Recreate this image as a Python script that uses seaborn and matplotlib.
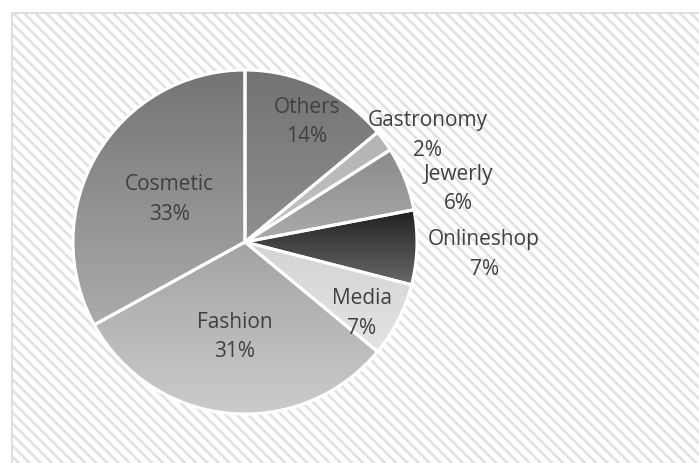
import numpy as np
import matplotlib
matplotlib.use("Agg")
import matplotlib.pyplot as plt
import seaborn as sns
from matplotlib.colors import LinearSegmentedColormap
from matplotlib.patches import Rectangle

# ---- data ----
categories = ["Others", "Gastronomy", "Jewerly", "Onlineshop", "Media", "Fashion", "Cosmetic"]
values = [14, 2, 6, 7, 7, 31, 33]
pct_labels = ["14%", "2%", "6%", "7%", "7%", "31%", "33%"]

# gradient colours (top -> bottom) per slice
top_colors = ["#737373", "#b3b3b3", "#8a8a8a", "#1f1f1f", "#d4d4d4", "#a3a3a3", "#747474"]
bottom_colors = ["#8f8f8f", "#c4c4c4", "#ababab", "#6a6a6a", "#e3e3e3", "#cccccc", "#ababab"]

# label placement (radius as fraction of pie radius, angle in degrees)
label_r = [0.785, 1.231, 1.276, 1.392, 0.796, 0.555, 0.505]
label_ang = [62.7, 30.2, 14.0, -3.0, -31.3, -96.0, 151.0]

sns.set_theme(style="white")
plt.rcParams["font.family"] = ["Open Sans", "DejaVu Sans"]
plt.rcParams["hatch.linewidth"] = 1.9

W, H = 699, 463
fig = plt.figure(figsize=(W / 100, H / 100), dpi=100)
fig.patch.set_facecolor("white")

# hatched background panel
x0, y0 = 12 / W, 0.0
bg = Rectangle((x0, y0), 1 - x0 + 0.01, 1 - 13 / H, transform=fig.transFigure,
               facecolor="white", edgecolor="#e2e2e2", hatch="\\\\\\", linewidth=0, zorder=-5)
fig.patches.append(bg)
border = Rectangle((x0, y0 - 0.01), 1 - x0 + 0.02, 1 - 13 / H + 0.01, transform=fig.transFigure,
                   facecolor="none", edgecolor="#d9d9d9", linewidth=1.2, zorder=-4)
fig.patches.append(border)

ax = fig.add_axes([0, 0, 1, 1])
ax.set_zorder(1)
ax.patch.set_visible(False)

R_PX = 172.0
cx, cy = 245.0, 242.0

wedges, _ = ax.pie(values, startangle=90, counterclock=False, radius=1, center=(0, 0),
                   colors=bottom_colors,
                   wedgeprops=dict(edgecolor="white", linewidth=2.2))

grad = np.linspace(0, 1, 256).reshape(-1, 1)
for w, tc, bc in zip(wedges, top_colors, bottom_colors):
    verts = w.get_path().vertices
    xmin, xmax = verts[:, 0].min(), verts[:, 0].max()
    ymin, ymax = verts[:, 1].min(), verts[:, 1].max()
    cmap = LinearSegmentedColormap.from_list("g", [tc, bc])
    im = ax.imshow(grad, extent=(xmin, xmax, ymin, ymax), origin="upper", cmap=cmap,
                   aspect="auto", zorder=0.8, interpolation="bilinear")
    im.set_clip_path(w)
    w.set_facecolor("none")
    w.set_zorder(1)

for cat, pct, r, a in zip(categories, pct_labels, label_r, label_ang):
    t = np.deg2rad(a)
    ax.text(r * np.cos(t), r * np.sin(t), f"{cat}\n{pct}", ha="center", va="center",
            fontsize=15, color="#404040", linespacing=1.55, zorder=3)

ax.set_aspect("auto")
ax.set_xlim(-cx / R_PX, (W - cx) / R_PX)
ax.set_ylim(-(H - cy) / R_PX, cy / R_PX)
ax.axis("off")

fig.savefig("out.png", dpi=100, facecolor="white")
